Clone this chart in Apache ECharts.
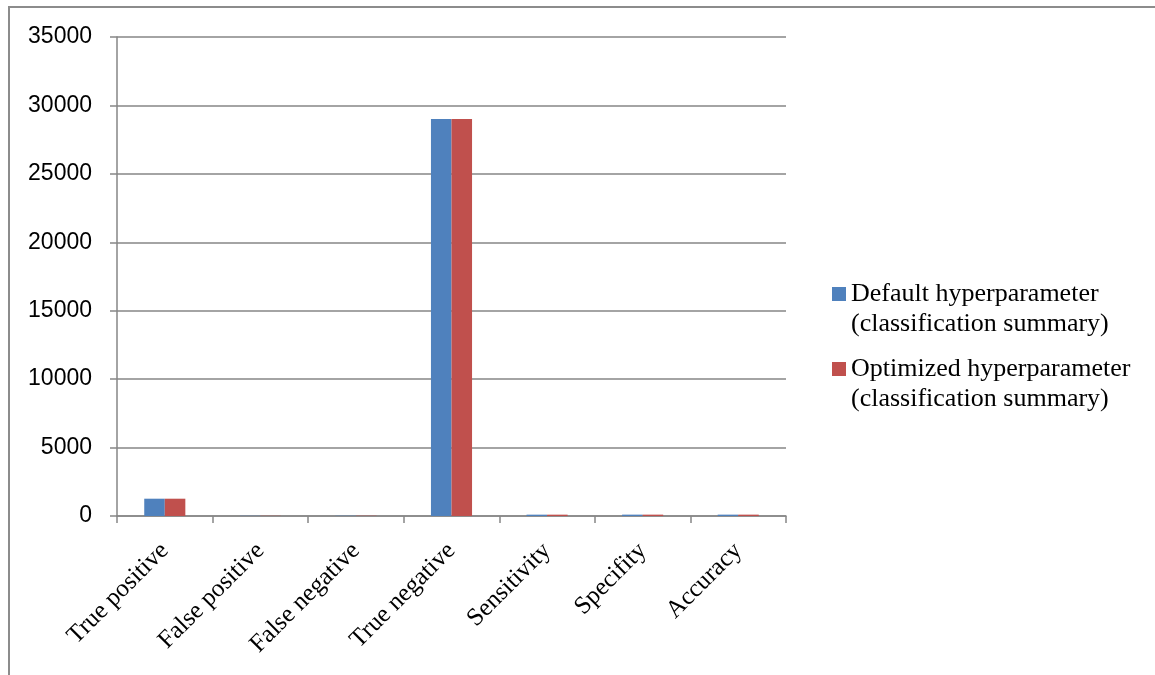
<!DOCTYPE html>
<html>
<head>
<meta charset="utf-8">
<script src="https://cdn.jsdelivr.net/npm/echarts@6/dist/echarts.min.js"></script>
<style>
html,body{margin:0;padding:0;background:#fff;}
#frame{position:absolute;left:8px;top:6px;width:1200px;height:700px;border-left:2px solid #8c8c8c;border-top:2px solid #8c8c8c;box-sizing:border-box;}
#chart{position:absolute;left:0;top:0;width:1155px;height:675px;}
</style>
</head>
<body>
<div id="frame"></div>
<div id="chart"></div>
<script>
const categories = ['True positive','False positive','False negative','True negative','Sensitivity','Specifity','Accuracy'];
const defaultValues = [1264, 15, 20, 29008, 98, 99.9, 99.8];
const optimizedValues = [1264, 15, 20, 29008, 98, 99.9, 99.8];
const seriesNames = ['Default hyperparameter\n(classification summary)','Optimized hyperparameter\n(classification summary)'];
const yTicks = {min: 0, max: 35000, interval: 5000};

const chart = echarts.init(document.getElementById('chart'));
const serif = '"Liberation Serif","Times New Roman",serif';
const legendText = {
  fontFamily: serif,
  fontSize: 26,
  color: '#000',
  rich: {
    s: {fontFamily: serif, fontSize: 26, lineHeight: 30},
    t: {fontFamily: serif, fontSize: 26, lineHeight: 30, color: '#000'}
  }
};
const legendFormatter = name => '{s|\u00a0}\n' + name.split('\n').map(l => '{t|' + l + '}').join('\n');
chart.setOption({
  backgroundColor: 'transparent',
  animation: false,
  grid: {left: 117, right: 369, top: 37, bottom: 159, containLabel: false},
  legend: [
    {data: [seriesNames[0]], left: 827, top: 246, icon: 'rect', itemWidth: 14, itemHeight: 14, itemGap: 6, textStyle: legendText, formatter: legendFormatter, selectedMode: false},
    {data: [seriesNames[1]], left: 827, top: 321, icon: 'rect', itemWidth: 14, itemHeight: 14, itemGap: 6, textStyle: legendText, formatter: legendFormatter, selectedMode: false}
  ],
  xAxis: {
    type: 'category',
    data: categories,
    boundaryGap: true,
    axisLine: {lineStyle: {color: '#868686', width: 1.5}},
    axisTick: {show: true, length: 7, lineStyle: {color: '#868686', width: 1.5}},
    axisLabel: {rotate: 45, margin: 31, interval: 0, color: '#000', fontSize: 25, fontFamily: serif}
  },
  yAxis: {
    type: 'value',
    min: yTicks.min, max: yTicks.max, interval: yTicks.interval,
    axisLine: {show: true, lineStyle: {color: '#868686', width: 1.5}},
    axisTick: {show: true, length: 7, lineStyle: {color: '#868686', width: 1.5}},
    splitLine: {lineStyle: {color: '#868686', width: 1.5}},
    axisLabel: {margin: 25, color: '#000', fontSize: 23, fontFamily: '"Liberation Sans",Arial,sans-serif', formatter: v => String(v)}
  },
  series: [
    {name: seriesNames[0], type: 'bar', data: defaultValues, barGap: '0%', barCategoryGap: '57%', itemStyle: {color: '#4F81BD'}},
    {name: seriesNames[1], type: 'bar', data: optimizedValues, barGap: '0%', barCategoryGap: '57%', itemStyle: {color: '#C0504D'}}
  ]
});
</script>
</body>
</html>
